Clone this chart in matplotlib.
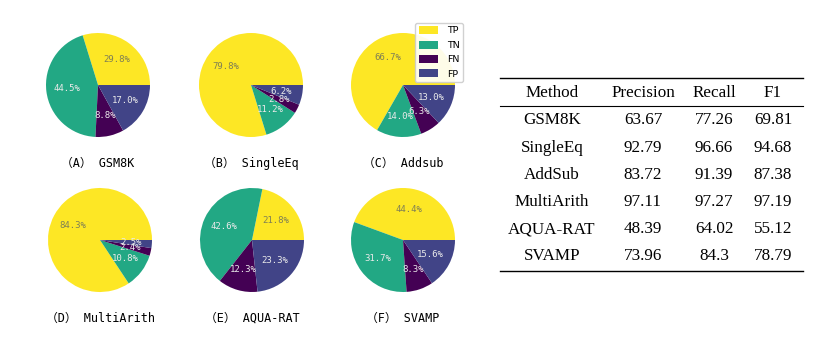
import matplotlib
matplotlib.use("Agg")
import matplotlib.pyplot as plt
from matplotlib.lines import Line2D

W, H = 834, 337
DPI = 100

labels = ["TP", "TN", "FN", "FP"]
colors = ["#fde725", "#22a884", "#440154", "#414487"]

titles = ["（A） GSM8K", "（B） SingleEq", "（C） Addsub",
          "（D） MultiArith", "（E） AQUA-RAT", "（F） SVAMP"]
gsm8k = [29.8, 44.5, 8.8, 17.0]
singleeq = [79.8, 11.2, 2.8, 6.2]
addsub = [66.7, 14.0, 6.3, 13.0]
multiarith = [84.3, 10.8, 2.4, 2.5]
aquarat = [21.8, 42.6, 12.3, 23.3]
svamp = [44.4, 31.7, 8.3, 15.6]
pie_data = [gsm8k, singleeq, addsub, multiarith, aquarat, svamp]

table_header = ["Method", "Precision", "Recall", "F1"]
methods = ["GSM8K", "SingleEq", "AddSub", "MultiArith", "AQUA-RAT", "SVAMP"]
precision = ["63.67", "92.79", "83.72", "97.11", "48.39", "73.96"]
recall = ["77.26", "96.66", "91.39", "97.27", "64.02", "84.3"]
f1 = ["69.81", "94.68", "87.38", "97.19", "55.12", "78.79"]

fig = plt.figure(figsize=(W / DPI, H / DPI), dpi=DPI)

centers = [(98, 85), (251, 85), (403, 85), (100, 240), (252, 240), (403, 240)]
R = 52
label_y = [163, 163, 163, 318, 318, 318]
mono = ["DejaVu Sans Mono", "Noto Sans CJK SC"]

for i, (vals, (cx, cy)) in enumerate(zip(pie_data, centers)):
    ax = fig.add_axes([(cx - R) / W, 1 - (cy + R) / H, 2 * R / W, 2 * R / H])
    wedges, texts, autotexts = ax.pie(vals, colors=colors, autopct="%1.1f%%",
                                      startangle=0, radius=1,
                                      textprops=dict(fontsize=6.5, family=mono))
    for j, t in enumerate(autotexts):
        t.set_color("#7f7f55" if j == 0 else "#eaeaea")
    ax.set_xlim(-1, 1)
    ax.set_ylim(-1, 1)
    ax.set_aspect("equal")
    ax.axis("off")
    fig.text(cx / W, 1 - label_y[i] / H, titles[i], ha="center", va="center",
             fontsize=8.5, family=mono)
    if i == 2:
        leg = ax.legend(wedges, labels, loc="upper right",
                        bbox_to_anchor=((463 - (cx - R)) / (2 * R), (1 - (23 - (cy - R)) / (2 * R))),
                        prop=dict(family="DejaVu Sans", size=6.8),
                        handlelength=2.1, handleheight=0.9, labelspacing=0.55,
                        borderpad=0.35, handletextpad=0.9, borderaxespad=0,
                        framealpha=0.9)

# table
serif = "Liberation Serif"
col_x = [552, 643, 714, 773]
row_y = [93, 120, 148, 175, 202, 229, 256]
fs = 12.3
for x, h in zip(col_x, table_header):
    fig.text(x / W, 1 - row_y[0] / H, h, ha="center", va="center", fontsize=fs, family=serif)
for r in range(len(methods)):
    rowvals = [methods[r], precision[r], recall[r], f1[r]]
    for x, v in zip(col_x, rowvals):
        fig.text(x / W, 1 - row_y[r + 1] / H, v, ha="center", va="center", fontsize=fs, family=serif)

for y, lw in [(78, 1.0), (106, 0.8), (271, 1.0)]:
    fig.add_artist(Line2D([500 / W, 803 / W], [1 - y / H, 1 - y / H], color="black", lw=lw))

fig.savefig("out.png", dpi=DPI)
